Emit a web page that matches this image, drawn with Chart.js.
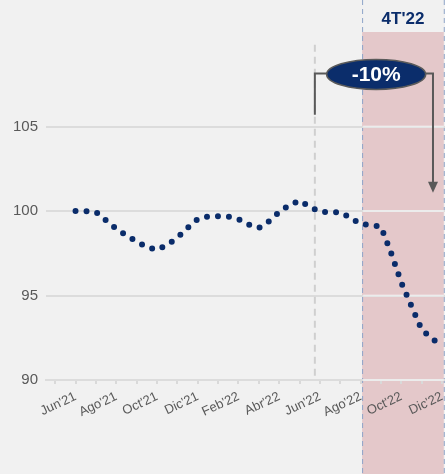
<!DOCTYPE html>
<html>
<head>
<meta charset="utf-8">
<script src="https://cdn.jsdelivr.net/npm/chart.js@4"></script>
<style>
  body { margin: 0; background: #f1f1f1; }
  #chart { display: block; }
</style>
</head>
<body>
<canvas id="chart" width="445" height="474"></canvas>
<script>
// meses (índice 0 = Jun'21), etiqueta cada dos meses
const months = ["Jun'21", "Jul'21", "Ago'21", "Sep'21", "Oct'21", "Nov'21", "Dic'21", "Ene'22", "Feb'22",
  "Mar'22", "Abr'22", "May'22", "Jun'22", "Jul'22", "Ago'22", "Sep'22", "Oct'22", "Nov'22", "Dic'22"];
// serie quincenal (base 100 = Jun'21)
const values = [100.0, 100.0, 99.95, 99.45, 98.95, 98.55, 98.2, 97.87, 97.7, 98.0, 98.42, 99.0, 99.52,
  99.68, 99.7, 99.68, 99.52, 99.2, 99.0, 99.4, 99.94, 100.35, 100.62, 100.26, 99.94, 99.94, 99.93,
  99.6, 99.22, 99.19, 99.06, 97.5, 95.75, 94.35, 92.97, 92.45, 92.0];
const yTicks = [90, 95, 100, 105];

const points = values.map((v, i) => ({ x: i / 2, y: v }));

// sombreado del trimestre y anotación -10%
const bandStart = 14.07, bandEnd = 18.08;
const markX = 11.75, arrowX = 17.55;

const decor = {
  id: 'decor',
  beforeDraw(chart) {
    const { ctx, scales: { x, y } } = chart;
    const h = chart.height;
    ctx.save();
    ctx.fillStyle = '#f1f1f1';
    ctx.fillRect(0, 0, chart.width, h);
    const x0 = x.getPixelForValue(bandStart), x1 = x.getPixelForValue(bandEnd);
    ctx.fillStyle = '#e4c8ca';
    ctx.fillRect(x0, chart.chartArea.top, x1 - x0, h - chart.chartArea.top);
    ctx.strokeStyle = '#8ea4c8';
    ctx.lineWidth = 1;
    ctx.setLineDash([5, 4]);
    [x0, x1].forEach(px => {
      ctx.beginPath();
      ctx.moveTo(px + 0.5, 0);
      ctx.lineTo(px + 0.5, h);
      ctx.stroke();
    });
    ctx.setLineDash([]);
    ctx.fillStyle = '#0b2d6b';
    ctx.font = 'bold 17px "Liberation Sans", Arial, sans-serif';
    ctx.textAlign = 'center';
    ctx.textBaseline = 'middle';
    ctx.fillText("4T'22", (x0 + x1) / 2, 19);
    ctx.restore();
  },
  beforeDatasetsDraw(chart) {
    const { ctx, scales: { x, y } } = chart;
    const x0 = x.getPixelForValue(bandStart), x1 = x.getPixelForValue(bandEnd);
    ctx.save();
    ctx.strokeStyle = 'rgba(255,255,255,0.45)';
    ctx.lineWidth = 2;
    yTicks.forEach(t => {
      const py = y.getPixelForValue(t);
      ctx.beginPath();
      ctx.moveTo(x0 + 1, py);
      ctx.lineTo(x1, py);
      ctx.stroke();
    });
    // línea gris discontinua
    const mx = x.getPixelForValue(markX);
    ctx.strokeStyle = '#cfcfcf';
    ctx.setLineDash([7, 5]);
    ctx.beginPath();
    ctx.moveTo(mx, y.getPixelForValue(109.85));
    ctx.lineTo(mx, y.getPixelForValue(90));
    ctx.stroke();
    ctx.restore();
  },
  afterDraw(chart) {
    const { ctx, scales: { x, y } } = chart;
    const lx = x.getPixelForValue(markX), rx = x.getPixelForValue(arrowX);
    const topY = y.getPixelForValue(108.15);
    const tipY = y.getPixelForValue(101.08);
    ctx.save();
    ctx.strokeStyle = '#595959';
    ctx.fillStyle = '#595959';
    ctx.lineWidth = 2;
    ctx.beginPath();
    ctx.moveTo(lx, y.getPixelForValue(105.7));
    ctx.lineTo(lx, topY);
    ctx.lineTo(rx, topY);
    ctx.lineTo(rx, tipY - 10);
    ctx.stroke();
    ctx.beginPath();
    ctx.moveTo(rx - 5, tipY - 11);
    ctx.lineTo(rx + 5, tipY - 11);
    ctx.lineTo(rx, tipY);
    ctx.closePath();
    ctx.fill();
    // elipse
    const cx = x.getPixelForValue(14.76), cy = topY + 1;
    ctx.beginPath();
    ctx.ellipse(cx, cy, 49.5, 15, 0, 0, Math.PI * 2);
    ctx.fillStyle = '#0b2d6b';
    ctx.fill();
    ctx.lineWidth = 1.5;
    ctx.strokeStyle = '#5a5a5a';
    ctx.stroke();
    ctx.fillStyle = '#ffffff';
    ctx.font = 'bold 21px "Liberation Sans", Arial, sans-serif';
    ctx.textAlign = 'center';
    ctx.textBaseline = 'middle';
    ctx.fillText('-10%', cx, cy + 1);
    ctx.restore();
  }
};

new Chart(document.getElementById('chart'), {
  type: 'line',
  data: {
    datasets: [{
      data: points,
      borderColor: '#0a2c6a',
      borderWidth: 6,
      borderDash: [0, 11],
      borderCapStyle: 'round',
      pointRadius: 0,
      tension: 0,
      fill: false
    }]
  },
  options: {
    responsive: false,
    animation: false,
    layout: { padding: { top: 32, right: 0, left: 0, bottom: 0 } },
    plugins: { legend: { display: false }, tooltip: { enabled: false } },
    scales: {
      x: {
        type: 'linear',
        min: -1.45,
        max: 18.14,
        afterBuildTicks: s => { s.ticks = []; for (let i = -1; i <= 18; i++) s.ticks.push({ value: i }); },
        afterFit: s => { s.height = 94; s.paddingLeft = 0; s.paddingRight = 0; },
        ticks: {
          autoSkip: false,
          minRotation: 25,
          maxRotation: 25,
          padding: 5,
          color: '#595959',
          font: { family: '"Liberation Sans", Arial, sans-serif', size: 13 },
          callback: v => (v >= 0 && v % 2 === 0 ? months[v] : '')
        },
        grid: { drawOnChartArea: false, drawTicks: true, tickLength: 4, color: '#d9d9d9', lineWidth: 2 },
        border: { display: true, color: '#dcdcdc', width: 2 }
      },
      y: {
        min: 90,
        max: 110.6,
        afterBuildTicks: s => { s.ticks = yTicks.map(v => ({ value: v })); },
        afterFit: s => { s.width = 46; },
        ticks: {
          padding: 8,
          color: '#595959',
          font: { family: '"Liberation Sans", Arial, sans-serif', size: 15 }
        },
        grid: { drawTicks: false, color: '#dcdcdc', lineWidth: 2 },
        border: { display: false }
      }
    }
  },
  plugins: [decor]
});
</script>
</body>
</html>
